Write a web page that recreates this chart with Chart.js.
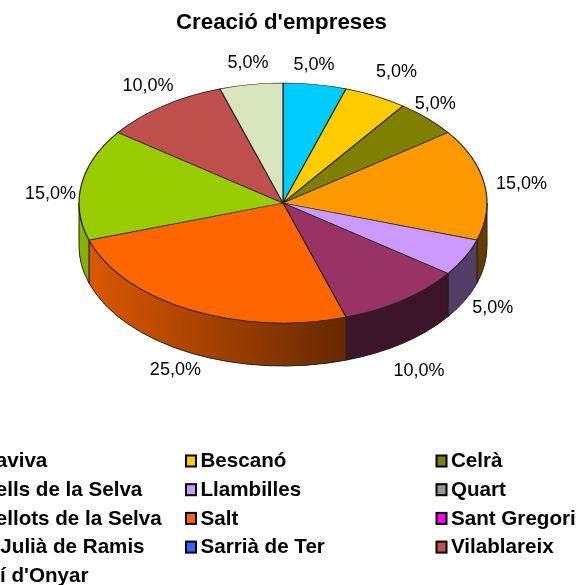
<!DOCTYPE html>
<html>
<head>
<meta charset="utf-8">
<script src="https://cdn.jsdelivr.net/npm/chart.js@4"></script>
<style>
  html, body { margin: 0; padding: 0; background: #fff; overflow: hidden; }
  canvas { display: block; }
</style>
</head>
<body>
<canvas id="pieChart" width="579" height="585"></canvas>
<script>
const chartTitle = "Creació d'empreses";
const categories = ['Aiguaviva', 'Bescanó', 'Celrà', 'Fornells de la Selva', 'Llambilles', 'Quart',
    'Riudellots de la Selva', 'Salt', 'Sant Gregori', 'Sant Julià de Ramis', 'Sarrià de Ter', 'Vilablareix', "Vilobí d'Onyar"];
const values = [5, 5, 5, 15, 5, 0, 10, 25, 0, 15, 0, 10, 5];
const colors = ['#00ccff', '#ffcc00', '#808000', '#ff9900', '#cc99ff', '#969696',
    '#993366', '#ff6600', '#ff00ff', '#99cc00', '#3366ff', '#c0504d', '#d8e4bc'];
// nudge of each percent label away from the rim of its slice
const labelNudge = [[-1, -19], [21, -24], [8, -14], [37, 0], [28, 51], [0, 0],
    [16, 71], [-15, 60], [0, 0], [-31, 10], [0, 0], [-15, -20], [-3, -21]];

const squash = 120 / 204;
const depth = 43;

const pie3d = {
    id: 'pie3d',
    beforeDatasetsDraw(chart) {
        const ctx = chart.ctx;
        const arcs = chart.getDatasetMeta(0).data;
        const { x: cx, y: cy, outerRadius: r } = arcs[0].getProps(['x', 'y', 'outerRadius'], true);
        const ry = r * squash;

        // side wall, only the front half of the ellipse shows
        arcs.forEach((arc, i) => {
            const { startAngle, endAngle } = arc.getProps(['startAngle', 'endAngle'], true);
            const a0 = Math.max(startAngle, 0);
            const a1 = Math.min(endAngle, Math.PI);
            if (a1 <= a0) return;
            ctx.save();
            ctx.beginPath();
            ctx.ellipse(cx, cy, r, ry, 0, a0, a1);
            ctx.ellipse(cx, cy + depth, r, ry, 0, a1, a0, true);
            ctx.closePath();
            ctx.fillStyle = colors[i];
            ctx.fill();
            const shade = ctx.createLinearGradient(cx - r, 0, cx + 62, 0);
            shade.addColorStop(0, 'rgba(0,0,0,0.12)');
            shade.addColorStop(1, 'rgba(0,0,0,0.6)');
            ctx.fillStyle = shade;
            ctx.fill();
            ctx.strokeStyle = '#222';
            ctx.lineWidth = 1;
            ctx.stroke();
            ctx.restore();
        });

        ctx.save();
        ctx.translate(cx, cy);
        ctx.scale(1, squash);
        ctx.translate(-cx, -cy);
    },
    afterDatasetsDraw(chart) {
        const ctx = chart.ctx;
        ctx.restore();

        const arcs = chart.getDatasetMeta(0).data;
        const total = values.reduce((a, b) => a + b, 0);
        ctx.save();
        ctx.font = '18px "Liberation Sans", Arial, sans-serif';
        ctx.fillStyle = '#000';
        ctx.textAlign = 'center';
        ctx.textBaseline = 'middle';
        arcs.forEach((arc, i) => {
            if (!values[i]) return;
            const { x, y, outerRadius, startAngle, endAngle } = arc.getProps(['x', 'y', 'outerRadius', 'startAngle', 'endAngle'], true);
            const mid = (startAngle + endAngle) / 2;
            const px = x + Math.cos(mid) * outerRadius + labelNudge[i][0];
            const py = y + Math.sin(mid) * outerRadius * squash + labelNudge[i][1];
            ctx.fillText((values[i] / total * 100).toFixed(1).replace('.', ',') + '%', px, py);
        });
        ctx.restore();
    },
    afterDraw(chart) {
        const ctx = chart.ctx;
        ctx.save();
        ctx.fillStyle = '#000';
        ctx.textBaseline = 'middle';
        ctx.textAlign = 'center';
        ctx.font = 'bold 22.3px "Liberation Sans", Arial, sans-serif';
        ctx.fillText(chartTitle, 281.5, 23);

        // legend runs off the left of the picture, as in the original
        ctx.font = 'bold 20.6px "Liberation Sans", Arial, sans-serif';
        ctx.textAlign = 'left';
        categories.forEach((name, i) => {
            const col = i % 3;
            const row = Math.floor(i / 3);
            const x = -50 + col * 250.5;
            const y = 461.5 + row * 28.7;
            ctx.fillStyle = colors[i];
            ctx.strokeStyle = '#000';
            ctx.lineWidth = 2;
            ctx.fillRect(x - 14.5, y - 6, 10, 11);
            ctx.strokeRect(x - 14.5, y - 6, 10, 11);
            ctx.fillStyle = '#000';
            ctx.fillText(name, x, y);
        });
        ctx.restore();
    }
};

new Chart(document.getElementById('pieChart').getContext('2d'), {
    type: 'pie',
    data: {
        labels: categories,
        datasets: [{
            data: values,
            backgroundColor: colors,
            borderColor: '#222',
            borderWidth: 1.2,
            clip: false
        }]
    },
    options: {
        responsive: false,
        animation: false,
        radius: 204,
        layout: { padding: { left: 0, right: 13, top: 0, bottom: 179 } },
        plugins: {
            legend: { display: false },
            tooltip: { enabled: false }
        }
    },
    plugins: [pie3d]
});
</script>
</body>
</html>
